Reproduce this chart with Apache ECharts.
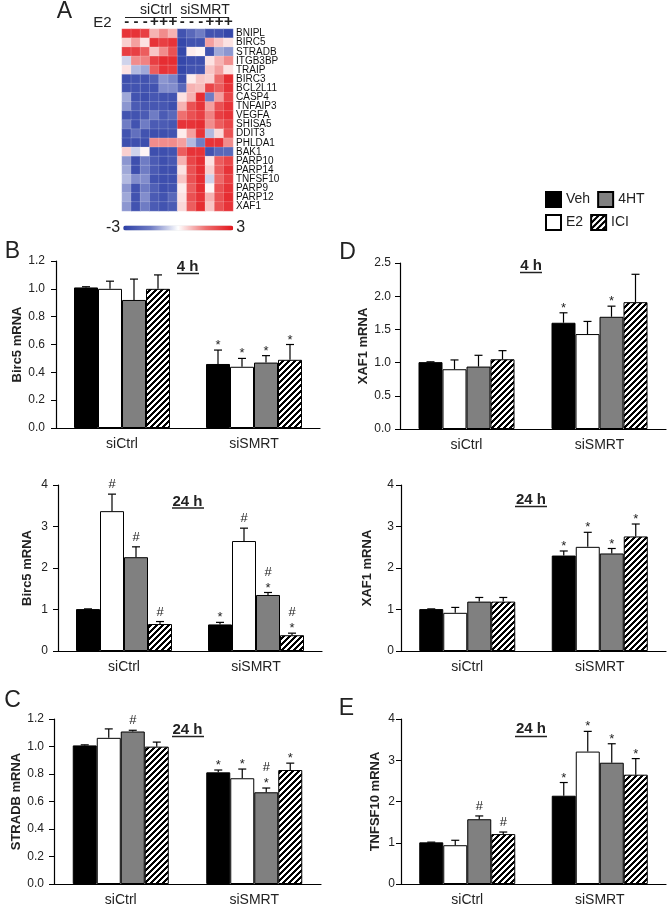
<!DOCTYPE html>
<html><head><meta charset="utf-8">
<script src="https://cdn.jsdelivr.net/npm/echarts@6/dist/echarts.min.js"></script>
<style>html,body{margin:0;padding:0;background:#fff}#c{width:667px;height:907px}</style>
</head><body><div id="c"></div>
<script>
// ---------- DATA ----------
const genes = ['BNIPL','BIRC5','STRADB','ITGB3BP','TRAIP','BIRC3','BCL2L11','CASP4','TNFAIP3','VEGFA','SHISA5','DDIT3','PHLDA1','BAK1','PARP10','PARP14','TNFSF10','PARP9','PARP12','XAF1'];
const colSigns = ['-','-','-','+','+','+','-','-','-','+','+','+'];
const heatRows = [
  [2.5,2.5,2.3,0.8,1.2,0.8,-2.5,-2.0,-1.5,-2.5,-2.5,-2.8],
  [0.5,1.0,0.3,2.5,2.3,2.5,-2.8,-2.5,-2.5,1.0,0.6,0.3],
  [2.3,2.3,1.8,0.6,1.2,2.0,-2.8,0.2,0.1,-2.5,-1.0,-1.2],
  [-0.5,1.2,1.3,2.3,2.6,2.6,-2.8,-2.6,-2.6,0.3,0.8,1.2],
  [0.3,-0.8,-1.0,1.8,2.5,2.4,-2.8,-2.5,-2.5,0.6,1.0,0.3],
  [-2.6,-2.5,-2.5,-2.2,-1.2,-1.4,-2.6,0.2,0.6,0.5,1.6,2.6],
  [-2.5,-2.5,-2.5,-2.5,-1.3,-1.3,-2.0,0.8,0.7,2.2,1.8,2.5],
  [-1.0,-2.5,-2.6,-2.4,-2.5,-2.5,0.3,0.8,2.6,-1.5,1.0,2.2],
  [-1.2,-2.3,-2.4,-2.4,-2.4,-2.6,0.8,2.0,2.5,1.0,2.0,2.5],
  [-2.5,-2.5,-2.3,-1.5,-2.3,-2.0,1.5,2.0,2.3,1.3,2.3,2.5],
  [-1.5,-2.5,-1.5,-2.3,-2.3,-2.4,2.5,2.5,2.6,1.2,1.8,2.2],
  [-2.5,-1.8,-2.5,-2.6,-2.6,-2.5,0.2,1.0,2.5,-0.8,0.4,2.0],
  [-2.6,-2.6,-2.6,1.2,1.2,1.2,1.0,-0.8,-1.5,2.5,2.5,1.2],
  [0.5,-0.5,0.1,-2.6,-2.6,-2.5,1.8,2.5,2.5,-2.5,-2.0,-2.0],
  [-1.2,-2.6,-1.5,-2.3,-2.6,-2.4,0.8,2.2,2.6,0.3,1.8,2.2],
  [-1.0,-2.6,-1.5,-2.3,-2.6,-2.6,0.3,2.0,2.6,0.5,1.8,2.5],
  [-0.8,-1.3,-1.3,-2.5,-2.6,-2.6,0.6,2.0,2.6,-0.5,1.6,2.3],
  [-1.2,-2.5,-1.5,-2.2,-2.6,-2.5,0.2,1.8,2.6,0.1,2.0,2.5],
  [-1.0,-2.5,-1.3,-2.3,-2.5,-2.0,0.3,2.0,2.5,0.8,2.0,2.6],
  [-1.2,-2.5,-1.5,-2.3,-2.5,-2.3,0.4,1.8,2.6,0.6,2.0,2.5]
];
const groups = ['siCtrl','siSMRT'];
const treatments = ['Veh','E2','4HT','ICI'];

// rows: Veh, E2, 4HT, ICI ; columns: siCtrl, siSMRT
const b4Mean = [[1.01,0.46],[1.00,0.44],[0.92,0.47],[1.00,0.49]];
const b4Err  = [[0.005,0.10],[0.055,0.06],[0.15,0.05],[0.10,0.11]];
const b4Sig  = [['','*'],['','*'],['','*'],['','*']];

const b24Mean = [[1.01,0.64],[3.37,2.65],[2.26,1.35],[0.65,0.38]];
const b24Err  = [[0.005,0.05],[0.41,0.31],[0.25,0.06],[0.06,0.05]];
const b24Sig  = [['','*'],['#','#'],['#','#*'],['#','#*']];

const cMean = [[1.008,0.812],[1.063,0.769],[1.109,0.667],[0.999,0.829]];
const cErr  = [[0.004,0.017],[0.065,0.067],[0.009,0.031],[0.033,0.05]];
const cSig  = [['','*'],['','*'],['#','#*'],['','*']];

const d4Mean = [[1.007,1.60],[0.90,1.43],[0.94,1.69],[1.05,1.91]];
const d4Err  = [[0.005,0.15],[0.14,0.19],[0.17,0.16],[0.13,0.42]];
const d4Sig  = [['','*'],['',''],['','*'],['','']];

const d24Mean = [[1.01,2.30],[0.92,2.51],[1.19,2.35],[1.19,2.76]];
const d24Err  = [[0.005,0.11],[0.13,0.35],[0.10,0.12],[0.10,0.30]];
const d24Sig  = [['','*'],['','*'],['','*'],['','*']];

const eMean = [[1.01,2.14],[0.94,3.21],[1.57,2.94],[1.21,2.65]];
const eErr  = [[0.005,0.32],[0.12,0.49],[0.08,0.46],[0.05,0.39]];
const eSig  = [['','*'],['','*'],['#','*'],['#','*']];

// ---------- STYLE ----------
const FONT = 'Liberation Sans, Arial, sans-serif';
const BAR_W = 24;
function hatch(){
  const n=6, cv=document.createElement('canvas'); cv.width=n; cv.height=n;
  const ctx=cv.getContext('2d'); const img=ctx.createImageData(n,n);
  for(let y=0;y<n;y++)for(let x=0;x<n;x++){
    const on=((x+y)%n)<3; const i=(y*n+x)*4; const v=on?0:255;
    img.data[i]=v;img.data[i+1]=v;img.data[i+2]=v;img.data[i+3]=255;
  }
  ctx.putImageData(img,0,0); return cv;
}
const fills = ['#000000','#ffffff','#808080',{image:hatch(),repeat:'repeat'}];

const panels = [
  {mean:b4Mean,err:b4Err,sig:b4Sig,grid:{left:56,top:261,width:264,height:167},max:1.2,interval:0.2,dec:1,name:'Birc5 mRNA',nameGap:30,lm:11},
  {mean:b24Mean,err:b24Err,sig:b24Sig,grid:{left:58,top:485,width:264,height:166},max:4,interval:1,dec:0,name:'Birc5 mRNA',nameGap:24,lm:10},
  {mean:cMean,err:cErr,sig:cSig,grid:{left:54,top:719,width:267,height:168},max:1.2,interval:0.2,dec:1,name:'STRADB mRNA',nameGap:29,lm:10},
  {mean:d4Mean,err:d4Err,sig:d4Sig,grid:{left:400,top:263,width:266,height:166},max:2.5,interval:0.5,dec:1,name:'XAF1 mRNA',nameGap:26,lm:9},
  {mean:d24Mean,err:d24Err,sig:d24Sig,grid:{left:401,top:485,width:265,height:166},max:4,interval:1,dec:0,name:'XAF1 mRNA',nameGap:27,lm:7},
  {mean:eMean,err:eErr,sig:eSig,grid:{left:401,top:719,width:265,height:167},max:4,interval:1,dec:0,name:'TNFSF10 mRNA',nameGap:19,lm:6}
];

const grids=[{left:122,top:29,width:111,height:182}];
const xAxes=[{type:'category',gridIndex:0,position:'top',data:colSigns.map((s,i)=>'c'+i),
  axisLine:{show:false},axisTick:{show:false},
  axisLabel:{interval:0,formatter:(v,i)=>colSigns[i],fontSize:15,fontWeight:'bold',color:'#222',margin:0,fontFamily:FONT}}];
const yAxes=[{type:'category',gridIndex:0,position:'right',inverse:true,data:genes,
  axisLine:{show:false},axisTick:{show:false},
  axisLabel:{interval:0,fontSize:10,color:'#111',margin:3,fontFamily:'Liberation Sans Narrow, Liberation Sans, sans-serif'}}];
const heatData=[];
heatRows.forEach((row,r)=>row.forEach((v,c)=>heatData.push([c,r,v])));
const series=[{type:'heatmap',xAxisIndex:0,yAxisIndex:0,data:heatData,
  itemStyle:{borderColor:'rgba(255,255,255,0.35)',borderWidth:0.5}}];

panels.forEach((p,k)=>{
  const gi=k+1;
  grids.push(p.grid);
  xAxes.push({type:'category',gridIndex:gi,data:groups,
    axisLine:{lineStyle:{color:'#000',width:1.2}},axisTick:{show:false},
    axisLabel:{fontSize:14,color:'#222',margin:9,fontFamily:FONT}});
  yAxes.push({type:'value',gridIndex:gi,min:0,max:p.max,interval:p.interval,
    axisLine:{show:true,lineStyle:{color:'#000',width:1.2}},
    axisTick:{show:true,length:5,lineStyle:{color:'#000'}},
    splitLine:{show:false},
    axisLabel:{formatter:v=>v.toFixed(p.dec),fontSize:12,color:'#222',margin:p.lm,fontFamily:FONT},
    name:p.name,nameLocation:'middle',nameGap:p.nameGap,
    nameTextStyle:{fontWeight:'bold',fontSize:13,color:'#222',fontFamily:FONT}});
  treatments.forEach((t,s)=>{
    series.push({type:'bar',name:t,xAxisIndex:gi,yAxisIndex:gi,data:p.mean[s],
      barWidth:BAR_W,barGap:'0%',
      itemStyle:{color:fills[s],borderColor:'#000',borderWidth:1}});
  });
  const data=[],marks=[];
  treatments.forEach((t,s)=>groups.forEach((g,c)=>{
    data.push([c,p.mean[s][c],p.mean[s][c]+p.err[s][c],s]); marks.push(p.sig[s][c]);
  }));
  series.push({type:'custom',xAxisIndex:gi,yAxisIndex:gi,data,z:5,silent:true,
    encode:{x:0,y:[1,2]},
    renderItem:(params,api)=>{
      const c=api.value(0),v=api.value(1),t=api.value(2),s=api.value(3);
      const p0=api.coord([c,v]),p1=api.coord([c,t]);
      const x=p0[0]+(s-1.5)*BAR_W;
      const ch=[
        {type:'line',shape:{x1:x,y1:p0[1],x2:x,y2:p1[1]},style:{stroke:'#000',lineWidth:1.2}},
        {type:'line',shape:{x1:x-4,y1:p1[1],x2:x+4,y2:p1[1]},style:{stroke:'#000',lineWidth:1.2}}
      ];
      const m=marks[params.dataIndex];
      let y=p1[1]-3;
      for(let i=m.length-1;i>=0;i--){
        const sym=m[i];
        const yy = sym==='*' ? y+5 : y;
        ch.push({type:'text',style:{text:sym,x:x,y:yy,textAlign:'center',textVerticalAlign:'bottom',align:'center',verticalAlign:'bottom',
          font:'13px '+FONT,fill:'#222'}});
        y-=11;
      }
      return {type:'group',children:ch};
    }});
});

function txt(t,x,y,size,weight){
  return {type:'text',x:x,y:y,style:{text:t,x:0,y:0,textAlign:'center',textVerticalAlign:'middle',align:'center',verticalAlign:'middle',
    font:(weight||'normal')+' '+size+'px '+FONT,fill:'#222'}};
}
function hline(x1,x2,y,w){return {type:'line',shape:{x1,y1:y,x2,y2:y},style:{stroke:'#222',lineWidth:w||1.5}};}

const graphic=[
  txt('A',64.5,12,23), txt('B',12.5,252,23), txt('C',12.5,701,23), txt('D',347.5,253,23), txt('E',346.5,709,23),
  txt('siCtrl',156,10,14), txt('siSMRT',205,10,14), hline(125,177,17.5,1.2), hline(181,229,17.5,1.2),
  txt('E2',102.5,23,15),
  txt('4 h',187.5,267,15,'bold'), hline(177,199,273.5),
  txt('24 h',187.5,502,15,'bold'), hline(172,204,508),
  txt('24 h',187.5,730,15,'bold'), hline(172,204,736.5),
  txt('4 h',531,266,15,'bold'), hline(520,542,272.5),
  txt('24 h',531,500,15,'bold'), hline(515,547,506.5),
  txt('24 h',531,729,15,'bold'), hline(515,547,736.5)
];

const legendCommon={orient:'horizontal',itemWidth:15,itemHeight:15,itemGap:7,padding:0,icon:'rect',
  textStyle:{fontSize:14,color:'#222',width:30,fontFamily:FONT},selectedMode:false};

const option={
  animation:false,
  backgroundColor:'#fff',
  textStyle:{fontFamily:FONT},
  grid:grids, xAxis:xAxes, yAxis:yAxes, series,
  legend:[
    Object.assign({left:545,top:191,data:['Veh','4HT']},legendCommon),
    Object.assign({left:545,top:214,data:['E2','ICI']},legendCommon)
  ],
  visualMap:{type:'continuous',seriesIndex:0,min:-3,max:3,orient:'horizontal',left:91,top:205,
    itemWidth:5,itemHeight:110,text:['3','-3'],textGap:3,calculable:false,
    textStyle:{fontSize:16,color:'#222',fontFamily:FONT},
    inRange:{color:['#2c3fa6','#6f7cc4','#ffffff','#ee6f6f','#e3151c']}},
  graphic
};
const chart=echarts.init(document.getElementById('c'),null,{renderer:'canvas'});
chart.setOption(option);
</script></body></html>
